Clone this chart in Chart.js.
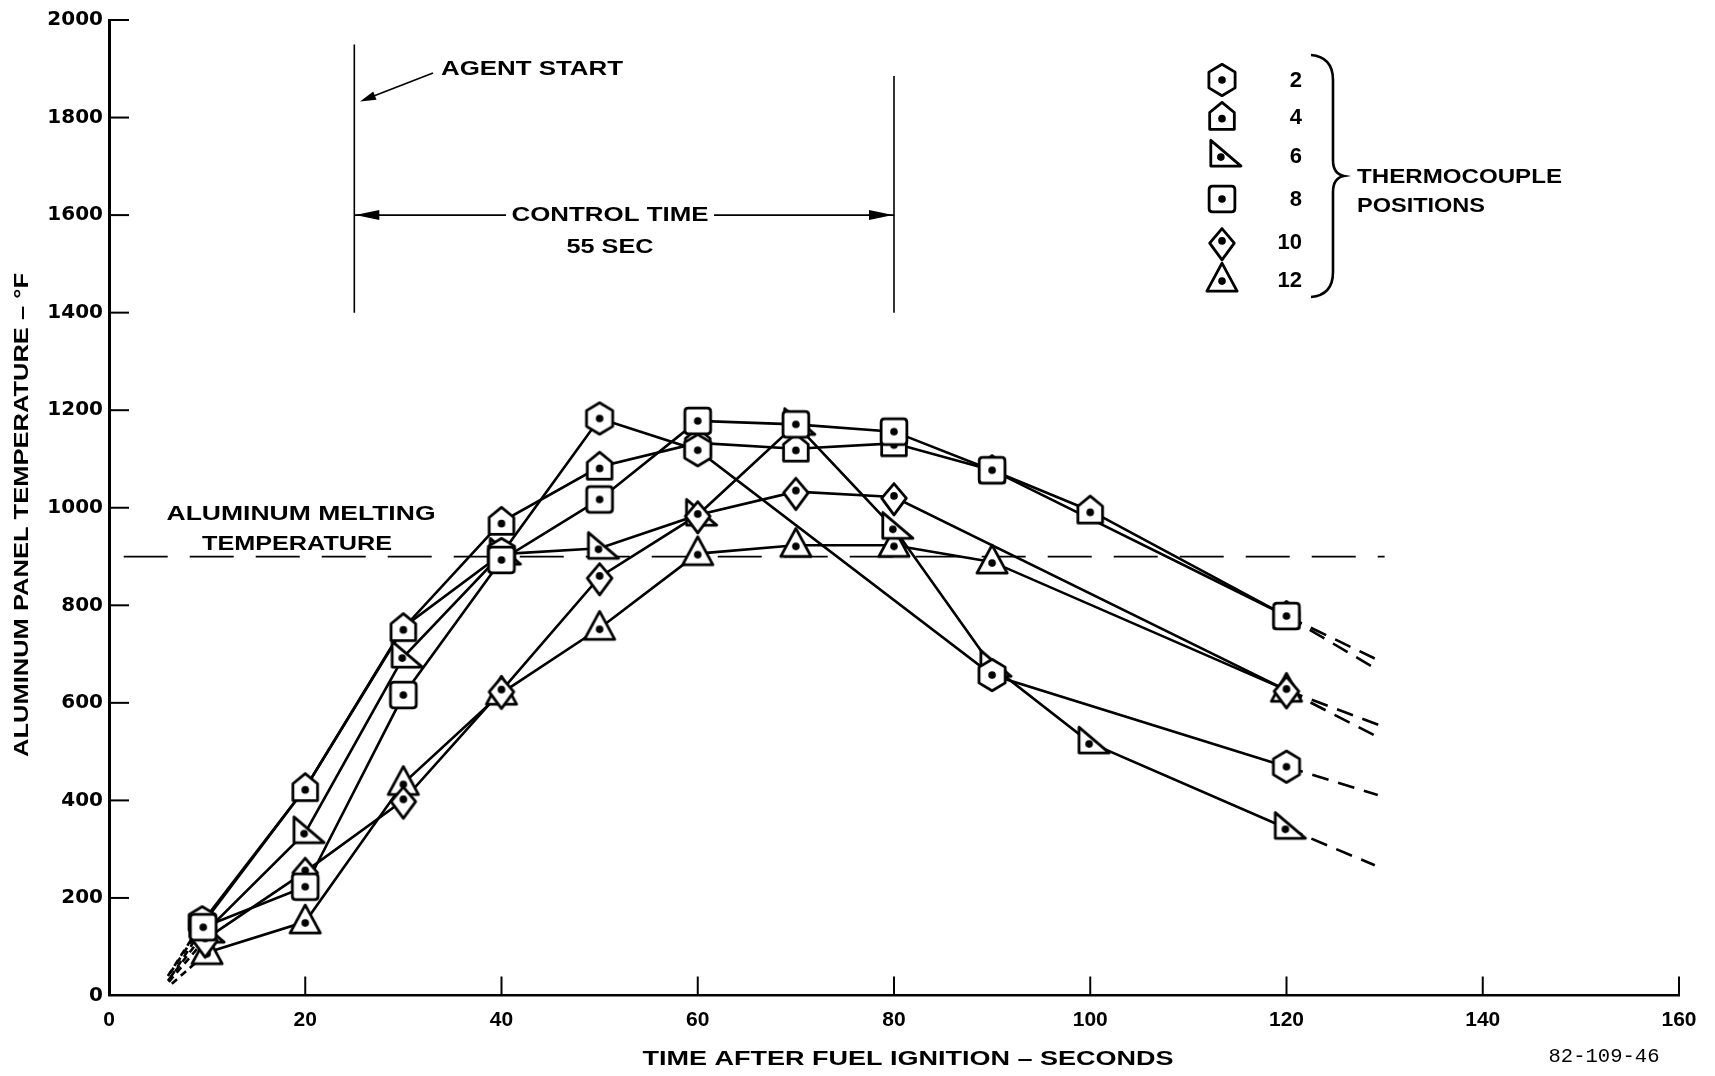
<!DOCTYPE html>
<html><head><meta charset="utf-8">
<script src="https://cdn.jsdelivr.net/npm/chart.js@4/dist/chart.umd.min.js"></script>
<style>html,body{margin:0;padding:0;background:#fff;}</style>
</head><body>
<canvas id="c" width="1715" height="1076"></canvas>
<script>
// ---- data ----
const seriesNames = ['2', '4', '6', '8', '10', '12'];
const t2  = [9.5, 20, 30, 40, 50, 60, 90, 120];
const v2  = [150, 425, 755, 905, 1183, 1118, 657, 469];
const t4  = [9.5, 20, 30, 40, 50, 60, 70, 80, 90, 100, 120];
const v4  = [145, 425, 753, 971, 1084, 1133, 1121, 1132, 1077, 994, 778];
const t6  = [9.8, 20, 30, 40, 50, 60, 70, 80, 90, 100, 120];
const v6  = [130, 334, 694, 905, 917, 985, 1171, 958, 675, 518, 343];
const t8  = [9.6, 20, 30, 40, 50, 60, 70, 80, 90, 120];
const v8  = [140, 223, 616, 893, 1017, 1178, 1171, 1156, 1077, 778];
const t10 = [9.8, 20, 30, 40, 50, 60, 70, 80, 120];
const v10 = [115, 254, 400, 625, 858, 985, 1033, 1022, 626];
const t12 = [10, 20, 30, 40, 50, 60, 70, 80, 90, 120];
const v12 = [88, 151, 435, 620, 753, 906, 923, 923, 889, 626];
// dashed extrapolations (start and end)
const startT = [6, 6.2, 6, 6.3, 6.1, 6.4];
const startV = [40, 45, 30, 38, 28, 24];
const endT   = [129.3, 129.3, 129, 129, 129.5, 129.3];
const endV   = [411, 688, 267, 671, 554, 530];
// reference line
const meltTemp = 900;
const meltT = [1.5, 130];
// axis ticks
const xTicks = [0, 20, 40, 60, 80, 100, 120, 140, 160];
const yTicks = [0, 200, 400, 600, 800, 1000, 1200, 1400, 1600, 1800, 2000];
// annotation values
const agentStart = 25;
const controlEnd = 80;
const controlLevel = 1600;

const allT = [t2, t4, t6, t8, t10, t12];
const allV = [v2, v4, v6, v8, v10, v12];
const shapes = ['hex', 'pent', 'tri6', 'square', 'diamond', 'tri12'];
// drawing layer of each series' markers (lower = on top) and markers hidden beneath others
const markerLayer = [1.1, 1.2, 1.4, 1.0, 1.3, 1.5];
const hiddenMarkerTimes = [[20, 30], [], [], [], [], []];

// ---- marker images ----
function makeMarker(type) {
  const S = 44, c = document.createElement('canvas');
  c.width = S; c.height = S;
  const g = c.getContext('2d');
  g.translate(S / 2, S / 2);
  g.scale(1.12, 1.12);
  g.lineWidth = 2.8 / 1.12; g.strokeStyle = '#000'; g.fillStyle = '#fff'; g.lineJoin = 'round';
  g.beginPath();
  let dot = [0, 0];
  if (type === 'hex') {
    for (let k = 0; k < 6; k++) {
      const a = -Math.PI / 2 + k * Math.PI / 3;
      const x = 13.5 * Math.cos(a), y = 14 * Math.sin(a);
      k ? g.lineTo(x, y) : g.moveTo(x, y);
    }
  } else if (type === 'pent') {
    g.moveTo(0, -13); g.lineTo(11, -4); g.lineTo(11, 11); g.lineTo(-11, 11); g.lineTo(-11, -4);
    dot = [0, 1.5];
  } else if (type === 'tri6') {
    g.moveTo(-10, -14); g.lineTo(-10, 9); g.lineTo(17, 9);
    dot = [-1, 1];
  } else if (type === 'square') {
    const r = 3, h = 11.5;
    g.moveTo(-h + r, -h); g.lineTo(h - r, -h); g.quadraticCurveTo(h, -h, h, -h + r);
    g.lineTo(h, h - r); g.quadraticCurveTo(h, h, h - r, h); g.lineTo(-h + r, h);
    g.quadraticCurveTo(-h, h, -h, h - r); g.lineTo(-h, -h + r); g.quadraticCurveTo(-h, -h, -h + r, -h);
  } else if (type === 'diamond') {
    g.moveTo(0, -12); g.lineTo(11, 1); g.lineTo(0, 16); g.lineTo(-11, 1);
    dot = [0, -1];
  } else if (type === 'tri12') {
    g.moveTo(0, -15); g.lineTo(13.5, 10); g.lineTo(-13.5, 10);
    dot = [0, 1];
  }
  g.closePath(); g.fill(); g.stroke();
  g.fillStyle = '#000';
  g.beginPath(); g.arc(dot[0], dot[1], 3.4, 0, Math.PI * 2); g.fill();
  return c;
}
const markers = shapes.map(makeMarker);

// ---- datasets ----
const datasets = [];
allT.forEach((ts, i) => {
  const pts = ts.map((t, j) => ({ x: t, y: allV[i][j] }));
  datasets.push({ data: pts, showLine: true, borderColor: '#000', borderWidth: 2.6, pointRadius: 0, order: 2 });
  datasets.push({ data: pts, showLine: false, order: markerLayer[i], pointRadius: 14,
    pointStyle: c => (c.raw && hiddenMarkerTimes[i].includes(c.raw.x)) ? false : markers[i] });
  datasets.push({ data: [{ x: startT[i], y: startV[i] }, pts[0]], showLine: true, borderColor: '#000',
    borderWidth: 2.6, borderDash: [7, 5], pointRadius: 0, order: 3 });
  datasets.push({ data: [pts[pts.length - 1], { x: endT[i], y: endV[i] }], showLine: true, borderColor: '#000',
    borderWidth: 2.6, borderDash: [17, 10], pointRadius: 0, order: 3 });
});
datasets.push({ data: meltT.map(t => ({ x: t, y: meltTemp })), showLine: true, borderColor: '#000',
  borderWidth: 1.8, borderDash: [44, 22], pointRadius: 0, order: 4 });

// ---- text helper: real text, horizontally fitted ----
function fitText(ctx, text, cx, cy, w, font, rot) {
  ctx.save();
  ctx.font = font;
  const m = ctx.measureText(text).width;
  ctx.translate(cx, cy);
  if (rot) ctx.rotate(rot);
  ctx.scale(w / m, 1);
  ctx.textAlign = 'center'; ctx.textBaseline = 'middle'; ctx.fillStyle = '#000';
  ctx.fillText(text, 0, 0);
  ctx.restore();
}
function arrowHead(ctx, x, y, ang, len, half) {
  ctx.save(); ctx.translate(x, y); ctx.rotate(ang);
  ctx.beginPath(); ctx.moveTo(0, 0); ctx.lineTo(-len, -half); ctx.lineTo(-len, half); ctx.closePath();
  ctx.fill(); ctx.restore();
}

const BOLD = 'bold 20px "Liberation Sans", Arial, sans-serif';
const NARROW = 'bold 21px "Liberation Sans", Arial, sans-serif';

const annot = {
  id: 'annot',
  afterDraw(chart) {
    const ctx = chart.ctx, xs = chart.scales.x, ys = chart.scales.y, ca = chart.chartArea;
    ctx.save();
    ctx.strokeStyle = '#000'; ctx.fillStyle = '#000';
    // tick marks (inside)
    ctx.lineWidth = 2;
    yTicks.forEach(v => { if (v === 0) return; const p = ys.getPixelForValue(v);
      ctx.beginPath(); ctx.moveTo(ca.left, p); ctx.lineTo(ca.left + 20, p); ctx.stroke(); });
    xTicks.forEach(v => { if (v === 0) return; const p = xs.getPixelForValue(v);
      ctx.beginPath(); ctx.moveTo(p, ca.bottom); ctx.lineTo(p, ca.bottom - 19); ctx.stroke(); });

    // agent start & control time
    const xa = xs.getPixelForValue(agentStart), xc = xs.getPixelForValue(controlEnd);
    ctx.lineWidth = 1.6;
    ctx.beginPath(); ctx.moveTo(xa, ys.getPixelForValue(1950)); ctx.lineTo(xa, ys.getPixelForValue(1400)); ctx.stroke();
    ctx.beginPath(); ctx.moveTo(xc, ys.getPixelForValue(1885)); ctx.lineTo(xc, ys.getPixelForValue(1400)); ctx.stroke();
    const yl = ys.getPixelForValue(controlLevel);
    ctx.beginPath(); ctx.moveTo(xa, yl); ctx.lineTo(506, yl); ctx.moveTo(714, yl); ctx.lineTo(xc, yl); ctx.stroke();
    arrowHead(ctx, xa + 1, yl, Math.PI, 24, 5);
    arrowHead(ctx, xc - 1, yl, 0, 24, 5);
    fitText(ctx, 'CONTROL TIME', 610, yl, 197, BOLD);
    fitText(ctx, '55 SEC', 610, 247, 87, BOLD);
    // agent start arrow
    ctx.beginPath(); ctx.moveTo(433, 73); ctx.lineTo(366, 99); ctx.stroke();
    arrowHead(ctx, 360, 101.5, Math.atan2(101.5 - 73, 360 - 433), 16, 4.5);
    fitText(ctx, 'AGENT START', 532, 69, 182, BOLD);

    // melting temperature label
    fitText(ctx, 'ALUMINUM MELTING', 301, 514, 269, BOLD);
    fitText(ctx, 'TEMPERATURE', 297, 544, 190, BOLD);

    // legend
    const ly = [80, 117, 156, 199, 242, 280];
    seriesNames.forEach((s, i) => {
      ctx.drawImage(markers[i], 1222 - 22, ly[i] - 22);
      ctx.font = 'bold 22px "Liberation Sans", Arial, sans-serif';
      ctx.textAlign = 'right'; ctx.textBaseline = 'middle';
      ctx.fillText(s, 1302, ly[i] + 1);
    });
    ctx.lineWidth = 2.6;
    ctx.beginPath();
    ctx.moveTo(1311, 55); ctx.quadraticCurveTo(1333, 57, 1333, 80); ctx.lineTo(1333, 160);
    ctx.quadraticCurveTo(1333, 174, 1344, 176); ctx.quadraticCurveTo(1333, 178, 1333, 192);
    ctx.lineTo(1333, 272); ctx.quadraticCurveTo(1333, 295, 1311, 297); ctx.stroke();
    fitText(ctx, 'THERMOCOUPLE', 1357 + 102.5, 177, 205, BOLD);
    fitText(ctx, 'POSITIONS', 1357 + 64, 206, 128, BOLD);

    // axis titles
    fitText(ctx, 'TIME AFTER FUEL IGNITION – SECONDS', 908, 1059, 531, NARROW);
    fitText(ctx, 'ALUMINUM PANEL TEMPERATURE – °F', 22, 515, 484, NARROW, -Math.PI / 2);
    fitText(ctx, '82-109-46', 1604, 1057, 111, '20px "Liberation Mono", "DejaVu Sans Mono", monospace');
    ctx.restore();
  }
};

new Chart(document.getElementById('c'), {
  type: 'scatter',
  data: { datasets },
  options: {
    responsive: false, animation: false, events: [],
    layout: { padding: { left: 0, right: 36, top: 20, bottom: 0 } },
    plugins: { legend: { display: false }, tooltip: { enabled: false } },
    scales: {
      x: {
        type: 'linear', min: 0, max: 160,
        afterBuildTicks: s => { s.ticks = xTicks.map(v => ({ value: v })); },
        ticks: { color: '#000', padding: 12, maxRotation: 0, callback: v => String(v),
          font: { family: '"Liberation Sans", Arial, sans-serif', size: 21, weight: 'bold' } },
        grid: { display: false, drawTicks: false },
        border: { display: true, width: 2.6, color: '#000' },
        afterFit: s => { s.height = 80.5; }
      },
      y: {
        type: 'linear', min: 0, max: 2000,
        afterBuildTicks: s => { s.ticks = yTicks.map(v => ({ value: v })); },
        ticks: { color: '#000', padding: 6, callback: v => String(v),
          font: { family: '"DejaVu Sans", sans-serif', size: 20, weight: 'bold' } },
        grid: { display: false, drawTicks: false },
        border: { display: true, width: 3, color: '#000' },
        afterFit: s => { s.width = 109; }
      }
    }
  },
  plugins: [annot]
});
</script>
</body></html>
